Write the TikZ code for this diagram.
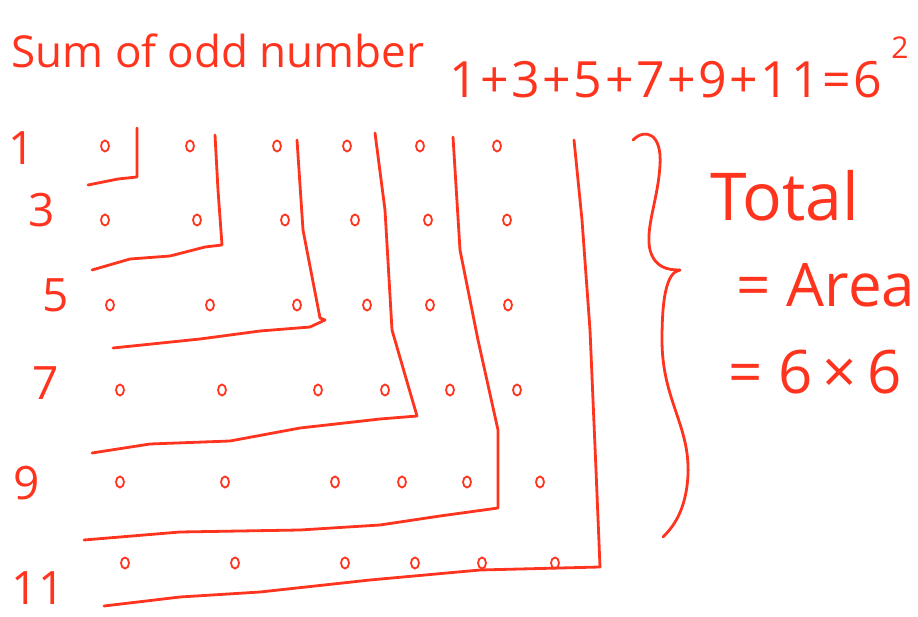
\documentclass[tikz,border=0pt]{standalone}
\usepackage{fontspec}
\setmainfont{Open Sans}
\usetikzlibrary{shapes.geometric}
\definecolor{inkred}{RGB}{255,52,30}
\begin{document}
\begin{tikzpicture}[
        x=1pt, y=-1pt,
        ink/.style={
            draw=inkred,
            line width=2.8pt,
            line cap=round,
            line join=round
        },
        dot/.style={
            ellipse,
            draw=inkred,
            line width=1.8pt,
            minimum width=8pt,
            minimum height=11pt,
            inner sep=0pt
        },
        rowlabel/.style={text=inkred, font=\fontsize{46}{50}\selectfont},
        every node/.style={text=inkred}
    ]

    \useasboundingbox (0,0) rectangle (918,617);

    \node[anchor=base west, font=\fontsize{44}{50}\selectfont] (title) at (8,68)
        {Sum of odd number};
    \node[anchor=base west, font=\fontsize{50}{56}\selectfont\addfontfeature{LetterSpace=5}] (sum) at (446,98)
        {1+3+5+7+9+11=6};
    \node[font=\fontsize{30}{32}\selectfont] (sq) at (900,48) {2};

    % row labels
    \node[rowlabel] (r1) at (22,148) {1};
    \node[rowlabel] (r3) at (42,210) {3};
    \node[rowlabel] (r5) at (56,295) {5};
    \node[rowlabel] (r7) at (46,383) {7};
    \node[rowlabel] (r9) at (27,483) {9};
    \node[rowlabel] (r11) at (38,588) {11};

    % the 6 x 6 dots
    \foreach \x [count=\c] in {105,190,277,347,420,497}
        \node[dot] (d1-\c) at (\x,146) {};
    \foreach \x [count=\c] in {105,197,285,355,428,507}
        \node[dot] (d3-\c) at (\x,220) {};
    \foreach \x [count=\c] in {110,210,297,367,430,508}
        \node[dot] (d5-\c) at (\x,305) {};
    \foreach \x [count=\c] in {120,222,318,385,450,517}
        \node[dot] (d7-\c) at (\x,390) {};
    \foreach \x [count=\c] in {120,225,335,402,467,540}
        \node[dot] (d9-\c) at (\x,482) {};
    \foreach \x [count=\c] in {125,235,345,415,482,555}
        \node[dot] (d11-\c) at (\x,563) {};

    % L shaped borders
    \draw[ink] (137,128) -- (137,177) -- (118,179) -- (88,185);
    \draw[ink] (215,135) -- (218,190) -- (222,245) -- (205,247) -- (170,256) -- (130,259) -- (92,270);
    \draw[ink] (297,140) -- (303,230) -- (320,318) -- (325,320) -- (310,327) -- (260,331) -- (200,339) -- (113,348);
    \draw[ink] (375,133) -- (385,210) -- (392,330) -- (410,392) -- (417,416) -- (380,419) -- (300,428) -- (230,441) -- (150,444) -- (92,453);
    \draw[ink] (453,137) -- (460,250) -- (478,340) -- (498,430) -- (498,508) -- (440,516) -- (380,525) -- (300,530) -- (180,532) -- (84,540);
    \draw[ink] (574,140) -- (582,220) -- (590,330) -- (596,470) -- (600,567) -- (480,570) -- (370,580) -- (260,592) -- (180,597) -- (104,606);

    % brace
    \draw[ink] (633,140) .. controls (645,128) and (662,133) .. (660,165)
        .. controls (658,200) and (645,228) .. (650,250)
        .. controls (655,268) and (668,270) .. (680,270);
    \draw[ink] (680,270) .. controls (666,272) and (662,300) .. (662,340)
        .. controls (662,400) and (690,425) .. (688,475)
        .. controls (686,512) and (672,528) .. (663,537);

    \node[font=\fontsize{66}{70}\selectfont] (total) at (785,196) {Total};
    \node[font=\fontsize{60}{64}\selectfont] (area) at (826,285) {= Area};
    \node[font=\fontsize{60}{64}\selectfont] (sixsix) at (815,372) {= 6\,×\,6};

\end{tikzpicture}
\end{document}
